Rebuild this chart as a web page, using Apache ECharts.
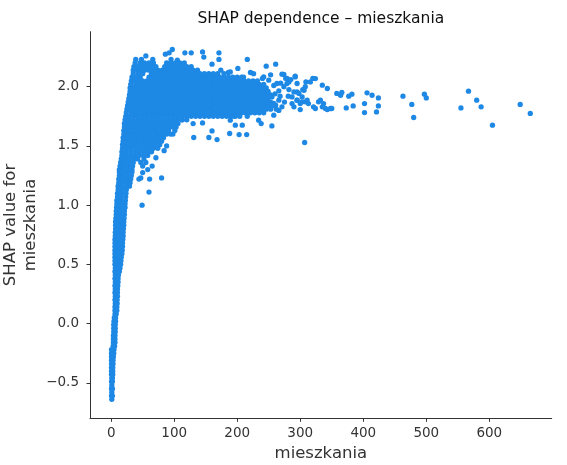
<!DOCTYPE html>
<html>
<head>
<meta charset="utf-8">
<script src="https://cdn.jsdelivr.net/npm/echarts@6/dist/echarts.min.js"></script>
<style>
html,body{margin:0;padding:0;background:#fff;}
#chart{width:567px;height:465px;}
</style>
</head>
<body>
<div id="chart"></div>
<script>
// ---- data (x = mieszkania, y = SHAP value) ----
const titleText = 'SHAP dependence \u2013 mieszkania';
const xName = 'mieszkania';
const yName = 'SHAP value for\nmieszkania';
const xTicks = [0, 100, 200, 300, 400, 500, 600];
const xTickLabels = ['0', '100', '200', '300', '400', '500', '600'];
const yTicks = [-0.5, 0, 0.5, 1, 1.5, 2];
const yTickLabels = ['\u22120.5', '0.0', '0.5', '1.0', '1.5', '2.0'];
const xRange = [-33.6, 699];
const yRange = [-0.80, 2.4645];

// steep rising column: [y, x1, x2, ...]
const colRows = [
 [-0.64, 1], [-0.61, 0.5, 2], [-0.58, 1], [-0.55, 0.5, 2], [-0.52, 1], [-0.49, 0.5, 2],
 [-0.46, 1, 2], [-0.43, 0.5, 2.5], [-0.40, 0.5, 2.5], [-0.37, 0.5, 2.5], [-0.34, 0.5, 3],
 [-0.31, 0.5, 3], [-0.28, 0.5, 3.5], [-0.25, 0.5, 4], [-0.22, 0.5, 4.5],
 [-0.19, 3, 5.5], [-0.16, 3.5, 6], [-0.13, 3.5, 6], [-0.10, 3.5, 6], [-0.07, 4, 6.5],
 [-0.04, 4, 6.5], [-0.01, 4, 6.5], [0.02, 4.5, 7], [0.05, 5, 7],
 [0.08, 6, 8], [0.11, 6, 9], [0.14, 6, 9], [0.17, 6.5, 9.5], [0.20, 6, 9.5], [0.23, 6.5, 10],
 [0.26, 6, 10], [0.29, 6.5, 10], [0.32, 6, 10.5], [0.35, 6.5, 11], [0.38, 6, 11], [0.41, 6.5, 11.5],
 [0.44, 6, 10, 13], [0.47, 6.5, 10, 14], [0.50, 6, 10.5, 15], [0.53, 6, 11, 15.5], [0.56, 6, 11, 16],
 [0.59, 6, 11.5, 17], [0.62, 6, 12, 17.5], [0.65, 6, 12, 18], [0.68, 6, 12, 18], [0.71, 6, 12.5, 18.5],
 [0.74, 6.5, 13, 19], [0.77, 6.5, 13, 19], [0.80, 7, 13, 19.5], [0.83, 7, 13.5, 20], [0.86, 7, 14, 20],
 [0.89, 7.5, 14, 20.5], [0.92, 8, 14, 21], [0.95, 8, 14.5, 21], [0.98, 8.5, 15, 22], [1.01, 9, 15, 22],
 [1.04, 9, 15.5, 22.5], [1.07, 10, 16, 23], [1.10, 10, 16.5, 23.5], [1.13, 11, 17, 24],
 [1.16, 11, 17.5, 24.5, 29], [1.19, 12, 18, 25, 30], [1.22, 12, 18.5, 25, 31], [1.25, 13, 19, 26, 32],
 [1.28, 13, 19.5, 26, 33]
];

// dense plateau: [y, x1, x2, ...]
const blobRows = [
 [1.30, 13, 19, 26, 33],
 [1.33, 14, 20, 27, 34, 50],
 [1.36, 15, 21, 28, 35, 47, 55],
 [1.39, 16, 22, 29, 36, 42, 52],
 [1.42, 17, 23, 30, 37, 44, 51, 58],
 [1.45, 17, 24, 31, 38, 45, 52, 59, 64],
 [1.48, 18, 25, 32, 39, 46, 53, 60, 67, 74],
 [1.51, 18, 22, 29, 36, 43, 50, 57, 64, 71, 77],
 [1.54, 19, 25, 32, 39, 46, 53, 60, 67, 74, 80],
 [1.57, 19, 22, 29, 36, 43, 50, 57, 64, 71, 78, 83],
 [1.60, 20, 27, 34, 41, 48, 55, 62, 69, 76, 83, 88, 98],
 [1.63, 20, 24, 31, 38, 45, 52, 59, 66, 73, 80, 87, 91, 101],
 [1.66, 21, 28, 35, 42, 49, 56, 63, 70, 77, 84, 91, 96, 103],
 [1.69, 21, 25, 32, 39, 46, 53, 60, 67, 74, 81, 88, 95, 100, 106],
 [1.72, 22, 28, 35, 42, 49, 56, 63, 70, 77, 84, 91, 98, 105, 112],
 [1.75, 23, 29, 36, 43, 50, 57, 64, 71, 78, 85, 92, 99, 106, 113, 120, 127, 134, 141, 148, 155, 162, 169, 176, 183, 190, 197, 204],
 [1.78, 24, 32, 39, 46, 53, 60, 67, 74, 81, 88, 95, 102, 109, 116, 123, 130, 137, 144, 151, 158, 165, 172, 179, 186, 193, 200, 207, 214, 221, 228, 235, 242],
 [1.81, 25, 29, 36, 43, 50, 57, 64, 71, 78, 85, 92, 99, 106, 113, 120, 127, 134, 141, 148, 155, 162, 169, 176, 183, 190, 197, 204, 211, 218, 225, 232, 239, 246, 253],
 [1.84, 26, 32, 39, 46, 53, 60, 67, 74, 81, 88, 95, 102, 109, 116, 123, 130, 137, 144, 151, 158, 165, 172, 179, 186, 193, 200, 207, 214, 221, 228, 235, 242, 249, 256],
 [1.87, 27, 29, 36, 43, 50, 57, 64, 71, 78, 85, 92, 99, 106, 113, 120, 127, 134, 141, 148, 155, 162, 169, 176, 183, 190, 197, 204, 211, 218, 225, 232, 239, 246, 253],
 [1.90, 28, 32, 39, 46, 53, 60, 67, 74, 81, 88, 95, 102, 109, 116, 123, 130, 137, 144, 151, 158, 165, 172, 179, 186, 193, 200, 207, 214, 221, 228, 235, 242, 249],
 [1.93, 29, 36, 43, 50, 57, 64, 71, 78, 85, 92, 99, 106, 113, 120, 127, 134, 141, 148, 155, 162, 169, 176, 183, 190, 197, 204, 211, 218, 225, 232, 239, 246, 253],
 [1.96, 30, 32, 39, 46, 53, 60, 67, 74, 81, 88, 95, 102, 109, 116, 123, 130, 137, 144, 151, 158, 165, 172, 179, 186, 193, 200, 207, 214, 221, 228, 235, 242, 249],
 [1.99, 30, 36, 43, 50, 57, 64, 71, 78, 85, 92, 99, 106, 113, 120, 127, 134, 141, 148, 155, 162, 169, 176, 183, 190, 197, 204, 211, 218, 225, 232, 239, 246],
 [2.02, 31, 39, 46, 53, 60, 67, 74, 81, 88, 95, 102, 109, 116, 123, 130, 137, 144, 151, 158, 165, 172, 179, 186, 193, 200, 207, 214, 221, 228, 235, 242],
 [2.05, 32, 36, 43, 50, 57, 64, 71, 78, 85, 92, 99, 106, 113, 120, 127, 134, 141, 148, 155, 162, 169, 176, 183, 190, 197, 204, 211, 218, 225, 232],
 [2.08, 33, 39, 46, 60, 67, 74, 81, 88, 95, 102, 109, 116, 123, 130, 137, 144, 151, 158, 165, 172, 179, 186, 193, 200, 207],
 [2.11, 35, 43, 50, 64, 71, 78, 85, 92, 99, 106, 113, 120, 127, 134, 141, 148, 155, 162, 169],
 [2.14, 35, 39, 46, 53, 60, 67, 74, 81, 88, 95, 102, 109, 116, 123, 130, 137],
 [2.17, 36, 43, 50, 57, 64, 71, 85, 92, 99, 106, 113, 120, 127],
 [2.20, 38, 46, 53, 60, 67, 88, 95, 102, 109, 116]
];

// individual scattered points: [x, y]
const loosePoints = [
 [49, 1.00], [60, 1.11], [61, 1.22], [80, 1.23], [47, 1.23], [44, 1.22], [50, 1.275],
 [65, 1.33], [71, 1.40], [84, 1.46], [88, 1.50], [58, 1.30],
 [55, 2.26], [39, 2.23], [48, 2.23], [66, 2.23], [92, 2.286], [97, 2.314], [86, 2.275], [117, 2.286],
 [127, 2.286], [145, 2.294], [171, 2.286], [147, 2.25], [160, 2.19], [171, 2.23], [216, 2.23],
 [246, 2.173], [261, 2.19], [201, 2.154], [210, 2.08], [221, 2.12], [186, 2.12], [189, 2.125],
 [179, 2.11], [174, 2.14], [226, 2.11], [240, 2.07], [253, 2.10], [274, 2.103], [292, 2.089],
 [282, 2.04], [279, 2.027], [271, 2.106], [279, 2.07], [95, 2.23], [105, 2.225],
 [242, 2.083], [250, 2.055], [263, 2.027], [277, 2.07], [295, 2.027],
 [131, 1.571], [155, 1.571], [168, 1.554], [188, 1.605], [203, 1.596], [215, 1.596], [160, 1.627],
 [145, 1.694], [130, 1.689], [197, 1.675], [208, 1.675], [234, 1.717], [238, 1.689], [255, 1.669],
 [189, 1.717], [195, 1.75], [213, 1.78], [216, 1.75], [258, 1.76], [266, 1.80], [113, 1.72],
 [120, 1.72], [102, 1.70], [94, 1.60],
 [258, 2.01], [266, 1.965], [274, 2.0], [282, 1.976], [295, 1.956], [304, 1.976], [255, 1.914],
 [266, 1.886], [261, 1.844], [271, 1.83], [287, 1.858], [295, 1.886], [303, 1.872], [260, 1.94],
 [268, 1.92], [275, 1.87], [281, 1.92], [262, 1.81], [258, 1.86], [269, 2.03], [285, 2.06],
 [309, 2.04], [320, 2.07],
 [290, 1.956], [298, 1.943], [287, 1.914], [295, 1.886], [300, 1.858], [308, 1.872], [290, 1.83],
 [300, 1.807], [313, 1.858], [321, 1.83], [329, 1.872], [337, 1.858], [335, 1.83], [306, 1.97],
 [303, 1.914], [311, 1.886], [324, 1.816], [332, 1.886], [340, 1.816], [348, 1.816],
 [292, 2.083], [324, 2.069], [316, 2.04], [335, 2.013], [343, 1.985], [308, 2.0],
 [358, 1.943], [366, 1.951], [364, 1.928], [377, 1.92], [382, 1.937], [406, 1.948], [414, 1.928],
 [424, 1.905], [463, 1.92], [497, 1.937], [500, 1.905], [567, 1.962], [580, 1.886], [587, 1.83],
 [649, 1.85], [665, 1.774], [605, 1.675], [555, 1.821], [477, 1.85], [480, 1.74], [424, 1.838],
 [421, 1.787], [402, 1.858], [402, 1.782], [384, 1.838], [373, 1.821], [350, 1.816], [343, 1.807],
 [307, 1.529]
];

// ---- build series data ----
const points = [];
[colRows, blobRows].forEach(rows => rows.forEach(r => {
  for (let i = 1; i < r.length; i++) points.push([r[i], r[0]]);
}));
loosePoints.forEach(p => points.push(p));

function labelFor(ticks, labels, v) {
  for (let i = 0; i < ticks.length; i++) if (Math.abs(ticks[i] - v) < 1e-9) return labels[i];
  return '';
}

const FONT = 'DejaVu Sans';
const AX = '#333333';
const chart = echarts.init(document.getElementById('chart'), null, {renderer: 'canvas'});
chart.setOption({
  animation: false,
  backgroundColor: '#ffffff',
  grid: {left: 90, right: 15.3, top: 31.7, bottom: 46.7, containLabel: false, outerBoundsMode: 'none'},
  graphic: [{
    type: 'text', x: 320.8, y: 18.5,
    style: {text: titleText, fill: '#111', font: '15.5px "DejaVu Sans"', align: 'center', verticalAlign: 'middle'}
  }],
  xAxis: {
    type: 'value', min: xRange[0], max: xRange[1],
    name: xName, nameLocation: 'middle', nameGap: 27, nameMoveOverlap: false,
    nameTextStyle: {fontFamily: FONT, fontSize: 16.5, color: AX},
    axisLine: {show: true, onZero: false, lineStyle: {color: AX, width: 1}},
    axisTick: {show: true, length: 3.5, customValues: xTicks, lineStyle: {color: AX, width: 1}},
    axisLabel: {customValues: xTicks, margin: 8, fontFamily: FONT, fontSize: 13.5, color: AX,
      formatter: v => labelFor(xTicks, xTickLabels, v)},
    splitLine: {show: false}
  },
  yAxis: {
    type: 'value', min: yRange[0], max: yRange[1],
    name: yName, nameLocation: 'middle', nameGap: 50, nameRotate: 90, nameMoveOverlap: false,
    nameTextStyle: {fontFamily: FONT, fontSize: 16.5, color: AX, lineHeight: 19.5, align: 'center'},
    axisLine: {show: true, onZero: false, lineStyle: {color: AX, width: 1}},
    axisTick: {show: true, length: 3.5, customValues: yTicks, lineStyle: {color: AX, width: 1}},
    axisLabel: {customValues: yTicks, margin: 11, fontFamily: FONT, fontSize: 13.5, color: AX,
      formatter: v => labelFor(yTicks, yTickLabels, v)},
    splitLine: {show: false}
  },
  series: [{
    type: 'scatter', data: points, symbol: 'circle', symbolSize: 5.3, silent: true,
    itemStyle: {color: '#1E88E5', opacity: 1}
  }]
});
</script>
</body>
</html>
